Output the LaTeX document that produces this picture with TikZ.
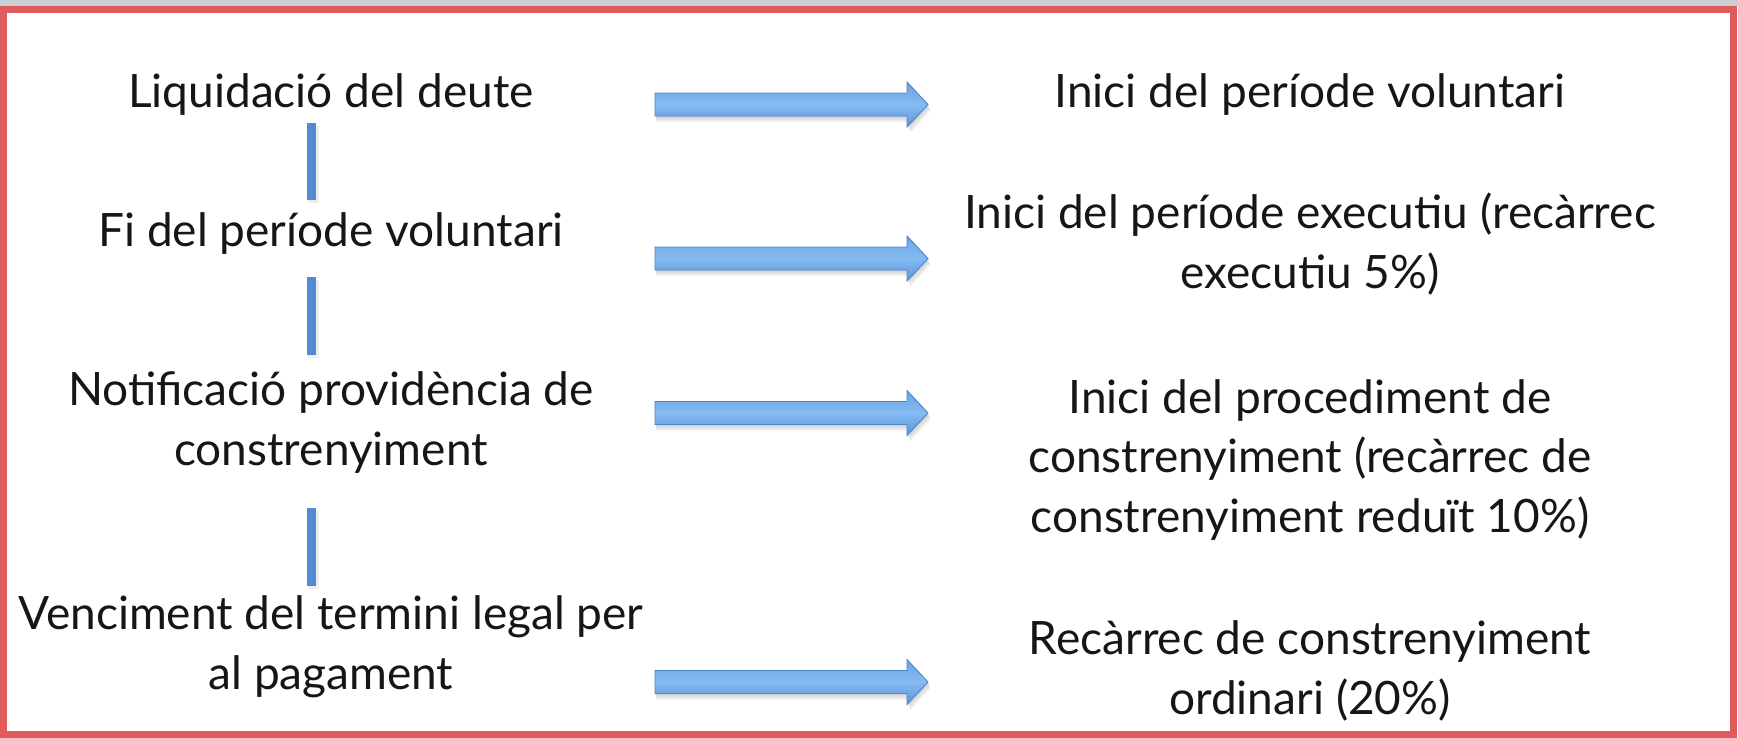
\documentclass[tikz,border=0pt]{standalone}
\usepackage{fontspec}
\setmainfont{Lato}
\definecolor{bordred}{HTML}{E05C5C}
\definecolor{topgrey}{HTML}{C8D0D5}
\definecolor{arrtop}{HTML}{6AA2E2}
\definecolor{arrmid}{HTML}{86BBF3}
\definecolor{arrbot}{HTML}{5A93D6}
\definecolor{arredge}{HTML}{4C85C8}
\definecolor{barblue}{HTML}{528BD0}
\definecolor{txt}{HTML}{161616}
\begin{document}
\begin{tikzpicture}[x=1pt,y=-1pt,
  lbl/.style={align=center, font=\fontsize{46}{59.5}\selectfont, text=txt, inner sep=0pt, anchor=base},
  barline/.style={barblue, line width=9pt},
  barshadow/.style={black, opacity=0.07, line width=11pt},
  pics/bluearrow/.style={code={
    \foreach \d in {2,4,6}{
      \fill[black, opacity=0.06] (1,-11.5+\d) -- (252+\d/2,-11.5+\d) -- (252+\d/2,-22.5+\d) -- (273+\d/2,\d) -- (252+\d/2,22.5+\d) -- (252+\d/2,11.5+\d) -- (1,11.5+\d) -- cycle;
    }
    \draw[arredge, line width=0.9pt, top color=arrtop, bottom color=arrbot, middle color=arrmid]
      (0,-11.5) -- (252,-11.5) -- (252,-22.5) -- (273,0) -- (252,22.5) -- (252,11.5) -- (0,11.5) -- cycle;
  }}]
\useasboundingbox (0,0) rectangle (1738,737);
\fill[white] (0,0) rectangle (1738,737);
\fill[topgrey] (0,0) rectangle (1738,6);
\draw[bordred, line width=7pt] (3.5,9.5) rectangle (1733.5,734);

% left column (base anchor = baseline of the last line)
\node[lbl] (L1) at (331,107) {Liquidació del deute};
\node[lbl] (L2) at (331,246) {Fi del període voluntari};
\node[lbl] (L3) at (331,465) {Notificació providència de\\constrenyiment};
\node[lbl] (L4) at (331,689) {Venciment del termini legal per\\al pagament};

% right column
\node[lbl] (R1) at (1310,107) {Inici del període voluntari};
\node[lbl] (R2) at (1310,288) {Inici del període executiu (recàrrec\\executiu 5\%)};
\node[lbl] (R3) at (1310,532) {Inici del procediment de\\constrenyiment (recàrrec de\\constrenyiment reduït 10\%)};
\node[lbl] (R4) at (1310,714) {Recàrrec de constrenyiment\\ordinari (20\%)};

% vertical bars
\coordinate (b1s) at (311.5,123); \coordinate (b1e) at (311.5,200);
\coordinate (b2s) at (311.5,277); \coordinate (b2e) at (311.5,355);
\coordinate (b3s) at (311.5,508); \coordinate (b3e) at (311.5,586);
\foreach \s/\e in {b1s/b1e,b2s/b2e,b3s/b3e}{
  \draw[barshadow] ([xshift=1.5pt,yshift=-3pt]\s) -- ([xshift=1.5pt,yshift=-3pt]\e);
  \draw[barline] (\s) -- (\e);
}

% arrows
\pic (A1) at (655,104.5) {bluearrow};
\pic (A2) at (655,258.5) {bluearrow};
\pic (A3) at (655,413) {bluearrow};
\pic (A4) at (655,682) {bluearrow};
\end{tikzpicture}
\end{document}
